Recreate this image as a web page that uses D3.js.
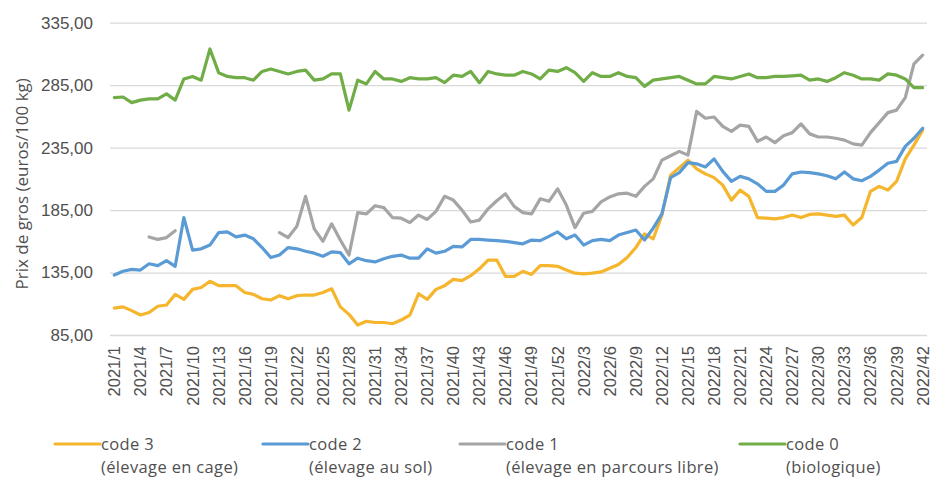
<!DOCTYPE html>
<html>
<head>
<meta charset="utf-8">
<script src="https://cdn.jsdelivr.net/npm/d3@7"></script>
<style>
  html, body { margin: 0; padding: 0; background: #ffffff; }
  svg { display: block; font-family: "Open Sans", "Noto Sans", sans-serif; }
</style>
</head>
<body>
<svg id="chart" width="936" height="477"></svg>
<script>
// Weekly wholesale egg prices (euros / 100 kg), 2021/1 .. 2022/42
const years = [2021, 2022];
const weeksPerYear = [52, 42];

// code 3 : élevage en cage
const code3 = [
  106.5, 107.5, 104.5, 101, 103, 108, 109, 117.5, 113.5, 121.5, 123, 128, 124.5, 124.5, 124.5, 119,
  117.5, 114, 113, 116.5, 114, 116.5, 117, 117, 119, 122, 107.5, 101.5, 93, 96, 95,
  95, 94, 97, 101, 118, 113.5, 121.5, 124.5, 129.5, 128.5, 132.5, 138, 145, 145, 132, 132,
  136, 133.5, 140.5, 140.5, 140, 137, 134.5, 134, 134.5, 135.5, 138.5, 141.5, 147, 155, 166, 162,
  181, 213, 219, 225, 218, 214, 211, 205, 193, 201, 196, 179, 178.5, 178,
  179, 181, 179, 181.5, 182, 181, 180, 181, 173, 179, 200, 204, 201, 208, 226, 237, 249
];

// code 2 : élevage au sol
const code2 = [
  133, 136, 137.5, 137, 142, 140.5, 144.5, 140, 179, 153, 154, 157, 167, 167.5, 163.5, 165,
  162, 155, 147, 149, 155, 154, 152, 150.5, 148, 151.5, 151, 142, 146.5, 144.5, 143.5,
  146, 148, 149, 146.5, 146.5, 154, 150.5, 152, 156, 155.5, 161.5, 161.5, 161, 160.5, 160, 159,
  158, 161, 160.5, 164, 167.5, 162, 165, 157, 160.5, 161.5, 160.5, 165, 167, 169, 161, 170.5,
  182, 211, 215, 223, 222, 219.5, 226, 216, 208, 212, 210, 206, 200, 200, 205,
  214, 215.5, 215, 214, 212.5, 210, 215.5, 210, 208.5, 212, 217, 222.5, 224, 236, 242.5, 250.5
];

// code 1 : élevage en parcours libre (weeks without a quotation are null)
const code1 = [
  null, null, null, null, 163.5, 161.5, 163, 168.5,
  null, null, null, null, null, null, null, null, null, null, null,
  167, 163, 172, 196, 170, 160, 174, 161, 149, 183, 182, 188.5,
  187, 179, 178.5, 175, 181, 177.5, 184, 196, 193, 185, 175.5, 177, 186, 192.5, 198, 188,
  183, 182, 194, 192, 202, 189, 171, 182.5, 184, 191.5, 195.5, 198, 198.5, 196, 204, 210,
  225, 228.5, 232, 229, 264, 258.5, 259.5, 252, 248, 253, 252, 240, 243.5, 239,
  244.5, 247, 254, 246, 243.5, 243.5, 242.5, 241, 238, 237, 247, 255, 263, 265, 275, 302, 309
];

// code 0 : biologique
const code0 = [
  275, 275.5, 271, 273, 274, 274, 278, 273, 290, 292, 289, 314, 295, 292, 291, 291,
  289, 296, 298, 296, 294, 296, 297, 289, 290, 294, 294, 265, 289, 286, 296,
  290, 290, 288, 291, 290, 290, 291, 287, 293, 292, 296, 287, 296, 294, 293, 293,
  296, 294, 290, 297, 296, 299, 295, 288, 295, 292, 292, 295, 292, 291, 284,
  289, 290, 291, 292, 289, 286, 286, 292, 291, 290, 292, 294, 291, 291, 292,
  292, 292.5, 293, 289, 290, 288, 291, 295, 293, 290, 290, 289, 294, 293, 290, 283, 283
];

const yTicks = [85, 135, 185, 235, 285, 335];

const xTickLabels = [
  "2021/1", "2021/4", "2021/7", "2021/10", "2021/13", "2021/16", "2021/19", "2021/22",
  "2021/25", "2021/28", "2021/31", "2021/34", "2021/37", "2021/40", "2021/43", "2021/46",
  "2021/49", "2021/52", "2022/3", "2022/6", "2022/9", "2022/12", "2022/15", "2022/18",
  "2022/21", "2022/24", "2022/27", "2022/30", "2022/33", "2022/36", "2022/39", "2022/42"
];

const seriesNames = ["code 3", "code 2", "code 1", "code 0"];
const seriesNotes = ["(élevage en cage)", "(élevage au sol)", "(élevage en parcours libre)", "(biologique)"];
const seriesColors = ["#F5B52C", "#5B9BD5", "#A5A5A5", "#70AD47"];

// week categories "YYYY/W"
const weeks = [];
years.forEach((yr, k) => {
  for (let w = 1; w <= weeksPerYear[k]; w++) weeks.push(yr + "/" + w);
});

const textColor = "#505050";
const svg = d3.select("#chart");
const plot = { left: 110, right: 927, top: 22.7, bottom: 335 };

const x = d3.scaleBand().domain(weeks).range([plot.left, plot.right]).padding(0);
const cx = d => x(d) + x.bandwidth() / 2;
const y = d3.scaleLinear().domain([85, 335]).range([plot.bottom, plot.top]);

const frLocale = d3.formatLocale({ decimal: ",", thousands: "\u00a0", grouping: [3], currency: ["", " €"] });
const fmt = frLocale.format(".2f");

// horizontal gridlines
const yAxis = d3.axisLeft(y).tickValues(yTicks).tickSize(-(plot.right - plot.left)).tickFormat(fmt).tickPadding(17);
const gy = svg.append("g").attr("transform", `translate(${plot.left},0)`).call(yAxis);
gy.select(".domain").remove();
gy.selectAll(".tick line").attr("stroke", "#D9D9D9").attr("stroke-width", 1.3);
gy.selectAll(".tick text").attr("fill", textColor).style("font-size", "17px");

// category axis labels, every third week
const xAxis = d3.axisBottom(x).tickValues(xTickLabels).tickSize(0).tickPadding(0);
const gx = svg.append("g").attr("transform", `translate(0,${plot.bottom})`).call(xAxis);
gx.select(".domain").remove();
gx.selectAll(".tick text")
  .attr("fill", textColor)
  .style("font-size", "16.5px")
  .attr("text-anchor", "end")
  .attr("transform", "translate(0,11) rotate(-90)")
  .attr("x", 0).attr("y", 0).attr("dy", "0.36em");

// y axis title
svg.append("text")
  .attr("transform", `translate(22,${(plot.top + plot.bottom) / 2 + 5}) rotate(-90)`)
  .attr("text-anchor", "middle")
  .attr("dy", "0.35em")
  .attr("fill", textColor)
  .style("font-size", "17px")
  .text("Prix de gros (euros/100 kg)");

// series lines
const series = [code3, code2, code1, code0];
const line = d3.line()
  .defined(d => d.v !== null)
  .x(d => cx(d.w))
  .y(d => y(d.v));

series.forEach((vals, i) => {
  const pts = weeks.map((w, j) => ({ w, v: vals[j] }));
  svg.append("path")
    .datum(pts)
    .attr("fill", "none")
    .attr("stroke", seriesColors[i])
    .attr("stroke-width", 3.2)
    .attr("stroke-linejoin", "round")
    .attr("stroke-linecap", "round")
    .attr("d", line);
});

// legend: swatch + name on the first row, description on the second
const legendX = [55, 263, 460, 740];
const legend = svg.append("g");
seriesNames.forEach((name, i) => {
  const g = legend.append("g").attr("transform", `translate(${legendX[i]},0)`);
  g.append("line")
    .attr("x1", 0).attr("x2", 45).attr("y1", 444).attr("y2", 444)
    .attr("stroke", seriesColors[i]).attr("stroke-width", 3.2).attr("stroke-linecap", "round");
  g.append("text").attr("x", 46).attr("y", 450).attr("fill", textColor)
    .style("font-size", "16.5px").style("letter-spacing", "0.35px").text(name);
  g.append("text").attr("x", 46).attr("y", 473).attr("fill", textColor)
    .style("font-size", "16.5px").style("letter-spacing", "0.35px").text(seriesNotes[i]);
});
</script>
</body>
</html>
